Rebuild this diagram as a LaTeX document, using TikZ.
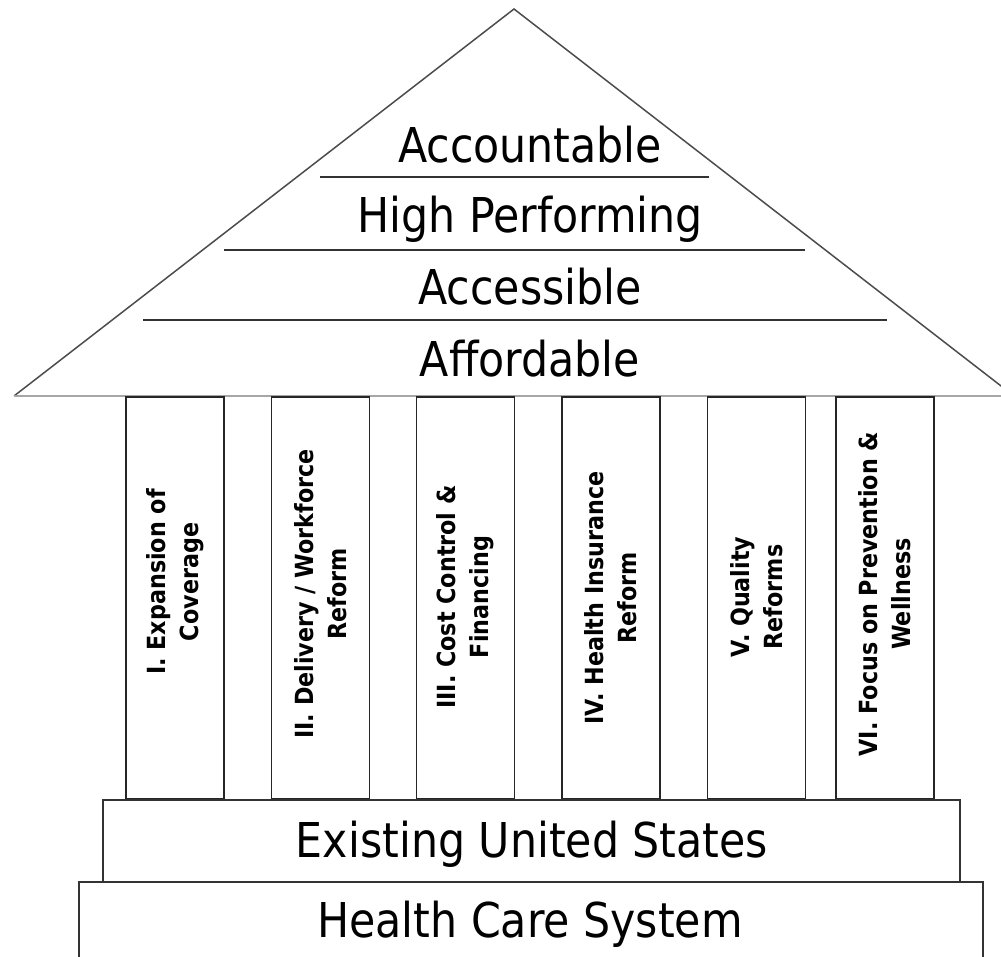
\documentclass[tikz,border=0pt]{standalone}
\usepackage{fontspec}
\newfontfamily\tahfont[FakeStretch=0.89]{DejaVu Sans}
\usepackage{tikz}

\begin{document}
\begin{tikzpicture}[x=1pt,y=-1pt]
		\tikzstyle{pillar}=[draw=black!85, line width=1.4pt, minimum width=98pt, minimum height=402pt, inner sep=0pt]
		\tikzstyle{pillartext}=[font=\tahfont\bfseries\fontsize{25}{33}\selectfont, align=center, rotate=90, inner sep=0pt]
		\tikzstyle{rooftext}=[font=\tahfont\fontsize{48}{56}\selectfont, anchor=base, inner sep=0pt]
		\tikzstyle{block}=[draw=black!80, line width=1.6pt, inner sep=0pt, anchor=north west]
		
		\useasboundingbox (0,0) rectangle (1001,956);
		\clip (0,0) rectangle (1001,956);
		
		% Roof
		\coordinate (top) at (514,9);
		\coordinate (eave_l) at (14,396);
		\coordinate (eave_r) at (1014,396);
		\draw[black!70, line width=1.5pt] (eave_l) -- (top) -- (eave_r);
		\draw[black!35, line width=2.5pt] (eave_l) -- (eave_r);
		
		% Roof layers
		\foreach \y/\l/\r in {177/320/709, 250/224/805, 320/143/887}
		\draw[black!80, line width=1.5pt] (\l,\y) -- (\r,\y);
		
		\node at (530,162) [rooftext] (roof_1) {Accountable};
		\node at (530,232) [rooftext] (roof_2) {High Performing};
		\node at (530,304) [rooftext] (roof_3) {Accessible};
		\node at (530,376) [rooftext] (roof_4) {Affordable};
		
		% Pillars
		\foreach \x/\ty/\n/\txt in {175/582/1/{I. Expansion of\\Coverage},
			320.5/594/2/{II. Delivery / Workforce\\Reform},
			465.5/597/3/{III. Cost Control \&\\Financing},
			611/598/4/{IV. Health Insurance\\Reform},
			756.5/597/5/{V. Quality\\Reforms},
			885/594/6/{VI. Focus on Prevention \&\\Wellness}}
		{
		\node at (\x,598) [pillar] (pillar_\n) {};
		\node at (\x,\ty) [pillartext] (label_\n) {\txt};
		}
		
		% Base
		\node at (102,799) [block, minimum width=857pt, minimum height=82pt] (base_1) {};
		\node at (78,881) [block, minimum width=904pt, minimum height=120pt] (base_2) {};
		\node at (532,857) [rooftext] (base_1_text) {Existing United States};
		\node at (530,937) [rooftext] (base_2_text) {Health Care System};
		
\end{tikzpicture}
\end{document}
